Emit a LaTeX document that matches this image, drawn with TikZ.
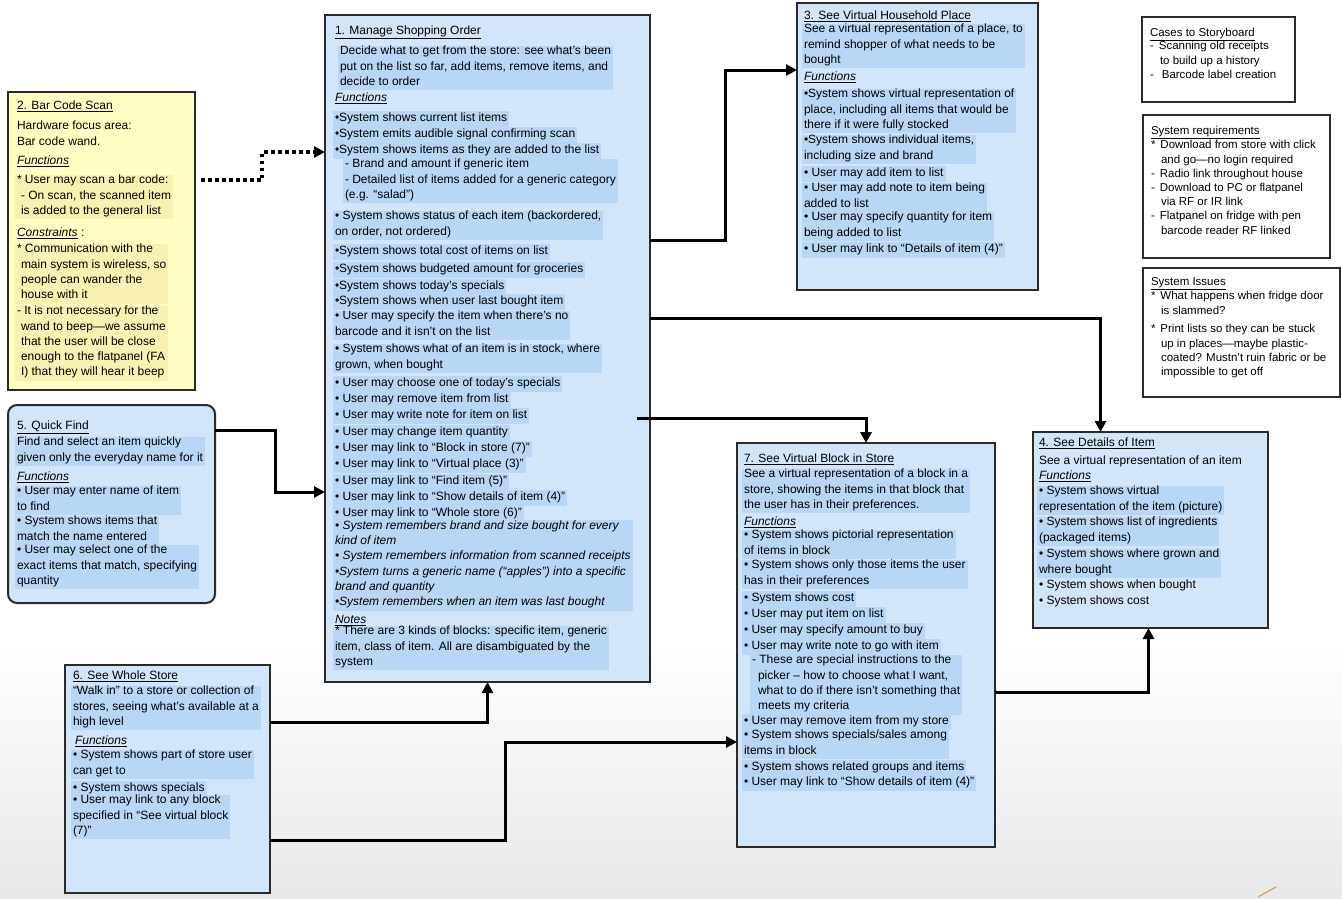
\documentclass[tikz,border=0pt]{standalone}
\usepackage{fontspec}
\setmainfont{Liberation Sans}
\usetikzlibrary{arrows.meta}
\definecolor{boxblue}{HTML}{D3E5F8}
\definecolor{strip}{HTML}{B9D6F4}
\definecolor{ybox}{HTML}{FFFFC4}
\definecolor{ystrip}{HTML}{F7F2B2}
\definecolor{edge}{HTML}{2A2A2A}
\definecolor{slashcol}{HTML}{D9A05B}
\newcommand{\fs}{\fontsize{12}{15.3}\selectfont}
\newcommand{\fss}{\fontsize{11.5}{14.2}\selectfont}
\newcommand{\fn}[1]{\underline{\textit{#1}}}
\tikzset{
 box/.style={draw=edge, line width=2pt, fill=boxblue, anchor=north west, inner sep=0pt, outer sep=0pt},
 ybox/.style={box, fill=ybox},
 wbox/.style={box, fill=white, line width=1.8pt},
 txt/.style={anchor=north west, align=left, inner xsep=2pt, inner ysep=0.5pt, outer sep=0pt, font=\fs,
   execute at begin node=\strut, execute at end node=\strut},
 stxt/.style={txt, font=\fss},
 para/.style={txt, fill=strip},
 ypara/.style={txt, fill=ystrip},
 conn/.style={line width=3pt, -{Triangle[length=11pt,width=11pt]}},
 dconn/.style={conn, line width=3.5pt, dash pattern=on 3.5pt off 3.5pt},
}
\begin{document}
\begin{tikzpicture}[x=1pt,y=-1pt]
\useasboundingbox (0,0) rectangle (1342,898);
\fill[white] (0,0) rectangle (1342,898);
\shade[top color=white, bottom color=black!9] (0,640) rectangle (1342,898);
\draw[slashcol, line width=1.2pt] (1258,897) -- (1276,887);

% ---------- Box 1
\node[box, minimum width=325pt, minimum height=667pt] (b1) at (325,15) {};
\node[txt] (a1) at (333,23.5) {\underline{1. Manage Shopping Order}};
\node[para] (a2) at (338,45.5) {Decide what to get from the store: see what's been\\put on the list so far, add items, remove items, and\\decide to order};
\node[txt] (a3) at (333,90.5) {\fn{Functions}};
\node[para] (a4) at (333,110.5) {•System shows current list items};
\node[para] (a5) at (333,126.5) {•System emits audible signal confirming scan};
\node[para] (a6) at (333,142.5) {•System shows items as they are added to the list};
\node[para] (a7) at (343,158.5) {- Brand and amount if generic item\\- Detailed list of items added for a generic category\\(e.g. “salad”)};
\node[para] (a8) at (333,210.5) {• System shows status of each item (backordered,\\on order, not ordered)};
\node[para] (a9) at (333,243.5) {•System shows total cost of items on list};
\node[para] (a10) at (333,261.5) {•System shows budgeted amount for groceries};
\node[para] (a11) at (333,278.5) {•System shows today's specials};
\node[para] (a12) at (333,293.5) {•System shows when user last bought item};
\node[para] (a13) at (333,310.5) {• User may specify the item when there's no\\barcode and it isn't on the list};
\node[para] (a14) at (333,343.5) {• System shows what of an item is in stock, where\\grown, when bought};
\node[para] (a15) at (333,375.5) {• User may choose one of today's specials};
\node[para] (a16) at (333,391.5) {• User may remove item from list};
\node[para] (a17) at (333,407.5) {• User may write note for item on list};
\node[para] (a18) at (333,424.5) {• User may change item quantity};
\node[para] (a19) at (333,440.5) {• User may link to “Block in store (7)”};
\node[para] (a20) at (333,456.5) {• User may link to “Virtual place (3)”};
\node[para] (a21) at (333,473.5) {• User may link to “Find item (5)”};
\node[para] (a22) at (333,489.5) {• User may link to “Show details of item (4)”};
\node[para] (a23) at (333,505.5) {• User may link to “Whole store (6)”};
\node[para] (a24) at (333,520) {\itshape • System remembers brand and size bought for every\\\itshape kind of item\\\itshape • System remembers information from scanned receipts\\\itshape •System turns a generic name (“apples”) into a specific\\\itshape brand and quantity\\\itshape •System remembers when an item was last bought};
\node[txt] (a25) at (333,612) {\fn{Notes}};
\node[para] (a26) at (333,625.5) {* There are 3 kinds of blocks: specific item, generic\\item, class of item. All are disambiguated by the\\system};

% ---------- Box 2 Bar code
\node[ybox, minimum width=187pt, minimum height=298pt] (b2) at (8,92) {};
\node[txt] (c1) at (15,98.5) {\underline{2. Bar Code Scan}};
\node[txt] (c2) at (15,120.5) {Hardware focus area:\\Bar code wand.};
\node[txt] (c3) at (15,153.5) {\fn{Functions}};
\node[ypara] (c4) at (15,174.5) {* User may scan a bar code:\\\hspace*{4pt}- On scan, the scanned item\\\hspace*{4pt}is added to the general list};
\node[txt] (c5) at (15,225.5) {\fn{Constraints} :};
\node[ypara] (c6) at (15,243.5) {* Communication with the\\\hspace*{4pt}main system is wireless, so\\\hspace*{4pt}people can wander the\\\hspace*{4pt}house with it};
\node[ypara] (c7) at (15,305.5) {- It is not necessary for the\\\hspace*{4pt}wand to beep—we assume\\\hspace*{4pt}that the user will be close\\\hspace*{4pt}enough to the flatpanel (FA\\\hspace*{4pt}I) that they will hear it beep};

% ---------- Box 5 Quick find
\node[box, rounded corners=9pt, minimum width=207pt, minimum height=198pt] (b5) at (8,405) {};
\node[txt] (e1) at (15,418.5) {\underline{5. Quick Find}};
\node[para] (e2) at (15,436.5) {Find and select an item quickly\\given only the everyday name for it};
\node[txt] (e3) at (15,469.5) {\fn{Functions}};
\node[para] (e4) at (15,485.5) {• User may enter name of item\\to find};
\node[para] (e5) at (15,515.5) {• System shows items that\\match the name entered};
\node[para] (e6) at (15,544.5) {• User may select one of the\\exact items that match, specifying\\quantity};

% ---------- Box 6 Whole store
\node[box, minimum width=205pt, minimum height=228pt] (b6) at (65,665) {};
\node[txt] (g1) at (71,668.5) {\underline{6. See Whole Store}};
\node[para] (g2) at (71,685.5) {“Walk in” to a store or collection of\\stores, seeing what's available at a\\high level};
\node[txt] (g3) at (73,733.5) {\fn{Functions}};
\node[para] (g4) at (71,749.5) {• System shows part of store user\\can get to};
\node[para] (g5) at (71,780.5) {• System shows specials};
\node[para] (g6) at (71,794.5) {• User may link to any block\\specified in “See virtual block\\(7)”};

% ---------- Box 3
\node[box, minimum width=241pt, minimum height=287pt] (b3) at (797,3) {};
\node[txt] (h1) at (802,8.5) {\underline{3. See Virtual Household Place}};
\node[para] (h2) at (802,23.5) {See a virtual representation of a place, to\\remind shopper of what needs to be\\bought};
\node[txt] (h3) at (802,69.5) {\fn{Functions}};
\node[para] (h4) at (802,88.5) {•System shows virtual representation of\\place, including all items that would be\\there if it were fully stocked};
\node[para] (h5) at (802,134.5) {•System shows individual items,\\including size and brand};
\node[para] (h6) at (802,165.5) {• User may add item to list};
\node[para] (h7) at (802,182.5) {• User may add note to item being\\added to list};
\node[para] (h8) at (802,211.5) {• User may specify quantity for item\\being added to list};
\node[para] (h9) at (802,241.5) {• User may link to “Details of item (4)”};

% ---------- Right note boxes
\node[wbox, minimum width=153pt, minimum height=85pt] (bc) at (1142,17) {};
\node[stxt] (k1) at (1148,26) {\underline{Cases to Storyboard}};
\node[stxt] (k2) at (1148,41) {-\hspace{5pt}Scanning old receipts\\\hspace*{10pt}to build up a history\\-\hspace{8pt}Barcode label creation};

\node[wbox, minimum width=187pt, minimum height=143pt] (br) at (1143,115) {};
\node[stxt] (k3) at (1149,124) {\underline{System requirements}};
\node[stxt] (k4) at (1149,140) {*\hspace{5pt}Download from store with click\\\hspace*{10pt}and go—no login required\\-\hspace{5pt}Radio link throughout house\\-\hspace{5pt}Download to PC or flatpanel\\\hspace*{10pt}via RF or IR link\\-\hspace{5pt}Flatpanel on fridge with pen\\\hspace*{10pt}barcode reader RF linked};

\node[wbox, minimum width=197pt, minimum height=129pt] (bi) at (1143,268) {};
\node[stxt] (k5) at (1149,275) {\underline{System Issues}};
\node[stxt] (k6) at (1149,291) {*\hspace{5pt}What happens when fridge door\\\hspace*{10pt}is slammed?};
\node[stxt] (k7) at (1149,324) {*\hspace{5pt}Print lists so they can be stuck\\\hspace*{10pt}up in places—maybe plastic-\\\hspace*{10pt}coated? Mustn't ruin fabric or be\\\hspace*{10pt}impossible to get off};

% ---------- Box 7
\node[box, minimum width=258pt, minimum height=404pt] (b7) at (737,443) {};
\node[txt] (m1) at (742,451.5) {\underline{7. See Virtual Block in Store}};
\node[para] (m2) at (742,468.5) {See a virtual representation of a block in a\\store, showing the items in that block that\\the user has in their preferences.};
\node[txt] (m3) at (742,514.5) {\fn{Functions}};
\node[para] (m4) at (742,529.5) {• System shows pictorial representation\\of items in block};
\node[para] (m5) at (742,559.5) {• System shows only those items the user\\has in their preferences};
\node[para] (m6) at (742,590.5) {• System shows cost};
\node[para] (m7) at (742,606.5) {• User may put item on list};
\node[para] (m8) at (742,622.5) {• User may specify amount to buy};
\node[para] (m9) at (742,638.5) {• User may write note to go with item};
\node[para] (m10) at (750,654.5) {- These are special instructions to the\\\hspace*{6pt}picker – how to choose what I want,\\\hspace*{6pt}what to do if there isn't something that\\\hspace*{6pt}meets my criteria};
\node[para] (m11) at (742,713.5) {• User may remove item from my store};
\node[para] (m12) at (742,729.5) {• System shows specials/sales among\\items in block};
\node[para] (m13) at (742,759.5) {• System shows related groups and items};
\node[para] (m14) at (742,774.5) {• User may link to “Show details of item (4)”};

% ---------- Box 4
\node[box, minimum width=235pt, minimum height=196pt] (b4) at (1033,432) {};
\node[txt] (n1) at (1037,435.5) {\underline{4. See Details of Item}};
\node[txt] (n2) at (1037,453.5) {See a virtual representation of an item};
\node[txt] (n3) at (1037,468.5) {\fn{Functions}};
\node[para] (n4) at (1037,485.5) {• System shows virtual\\representation of the item (picture)};
\node[para] (n5) at (1037,516.5) {• System shows list of ingredients\\(packaged items)};
\node[para] (n6) at (1037,548.5) {• System shows where grown and\\where bought};
\node[txt] (n7) at (1037,579.5) {• System shows when bought\\• System shows cost};

% ---------- Connectors
\path (b2.east |- 0,180) ++(6,0) coordinate (s0);
\coordinate (q1) at (262,166);
\draw[dconn] (s0) -| (q1) |- (b1.west |- 0,152);

\coordinate (q2) at (275,460);
\draw[conn] (b5.east |- 0,430) -| (q2) |- (b1.west |- 0,492);

\coordinate (q3) at (725,150);
\draw[conn] (b1.east |- 0,240) -| (q3) |- (b3.west |- 0,70);

\path (b4.north) ++(-50,0) coordinate (t4);
\draw[conn] (b1.east |- 0,318) -| (t4);

\path (b1.east |- 0,418) ++(-13,0) coordinate (s7);
\draw[conn] (s7) -| (b7.north);

\draw[conn] (b6.east |- 0,722) -| (b1.south);

\coordinate (q4) at (505,790);
\draw[conn] (b6.east |- 0,840) -| (q4) |- (b7.west |- 0,742);

\path (b4.south) ++(-2,0) coordinate (t5);
\draw[conn] (b7.east |- 0,692) -| (t5);
\end{tikzpicture}
\end{document}
